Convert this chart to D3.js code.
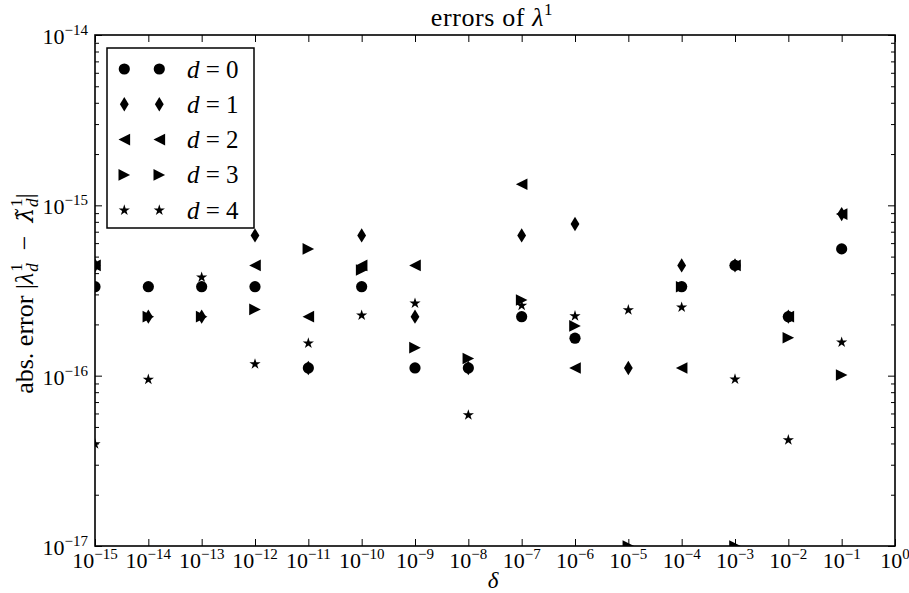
<!DOCTYPE html>
<html>
<head>
<meta charset="utf-8">
<script src="https://d3js.org/d3.v7.min.js"></script>
<style>
  body { margin: 0; background: #fff; }
  text { font-family: "Liberation Serif", "DejaVu Serif", serif; fill: #000; }
</style>
</head>
<body>
<div id="chart"></div>
<script>
// delta values (x) and abs. errors per d (y); null = not visible in the figure
const deltas = [1e-15, 1e-14, 1e-13, 1e-12, 1e-11, 1e-10, 1e-9, 1e-8, 1e-7, 1e-6, 1e-5, 1e-4, 1e-3, 1e-2, 1e-1];
const errD0 = [3.33e-16, 3.33e-16, 3.33e-16, 3.33e-16, 1.11e-16, 3.33e-16, 1.11e-16, 1.11e-16, 2.22e-16, 1.66e-16, null, 3.33e-16, 4.44e-16, 2.22e-16, 5.55e-16];
const errD1 = [4.44e-16, 2.22e-16, 2.22e-16, 6.66e-16, 1.11e-16, 6.66e-16, 2.22e-16, 1.11e-16, 6.66e-16, 7.77e-16, 1.11e-16, 4.44e-16, 4.44e-16, 2.22e-16, 8.88e-16];
const errD2 = [4.44e-16, null, null, 4.44e-16, 2.22e-16, 4.44e-16, 4.44e-16, null, 1.33e-15, 1.11e-16, null, 1.11e-16, 4.44e-16, 2.22e-16, 8.88e-16];
const errD3 = [4.44e-16, 2.22e-16, 2.22e-16, 2.45e-16, 5.55e-16, 4.17e-16, 1.46e-16, 1.26e-16, 2.78e-16, 1.96e-16, 1e-17, 3.33e-16, 1e-17, 1.67e-16, 1.01e-16];
const errD4 = [3.97e-17, 9.5e-17, 3.78e-16, 1.17e-16, 1.55e-16, 2.26e-16, 2.66e-16, 5.87e-17, 2.58e-16, 2.24e-16, 2.43e-16, 2.52e-16, 9.53e-17, 4.19e-17, 1.57e-16];
const seriesLabels = ["0", "1", "2", "3", "4"];
const xTickExps = [-15, -14, -13, -12, -11, -10, -9, -8, -7, -6, -5, -4, -3, -2, -1, 0];
const yTickExps = [-17, -16, -15, -14];

const width = 909, height = 593;
const margin = {top: 35, right: 14, bottom: 47, left: 95};
const plotW = width - margin.left - margin.right,
      plotH = height - margin.top - margin.bottom;

const svg = d3.select("#chart").append("svg")
    .attr("width", width)
    .attr("height", height);

const x = d3.scaleLog().domain([1e-15, 1]).range([0, plotW]);
const y = d3.scaleLog().domain([1e-17, 1e-14]).range([plotH, 0]);

const g = svg.append("g")
    .attr("transform", "translate(" + margin.left + "," + margin.top + ")");

g.append("clipPath").attr("id", "plot-clip")
    .append("rect").attr("width", plotW).attr("height", plotH);

// marker shapes, drawn around 0,0
function markerPath(kind) {
    const p = d3.path();
    if (kind === 0) {
        p.arc(0, 0, 5.6, 0, 2 * Math.PI);
    } else if (kind === 1) {
        p.moveTo(0, -7.2); p.lineTo(4.4, 0); p.lineTo(0, 7.2); p.lineTo(-4.4, 0); p.closePath();
    } else if (kind === 2) {
        p.moveTo(-5.8, 0); p.lineTo(5.8, -5.8); p.lineTo(5.8, 5.8); p.closePath();
    } else if (kind === 3) {
        p.moveTo(5.8, 0); p.lineTo(-5.8, -5.8); p.lineTo(-5.8, 5.8); p.closePath();
    } else {
        const R = 5.9, r = R * 0.382;
        for (let i = 0; i < 10; i++) {
            const a = -Math.PI / 2 + i * Math.PI / 5;
            const rad = i % 2 === 0 ? R : r;
            if (i === 0) p.moveTo(rad * Math.cos(a), rad * Math.sin(a));
            else p.lineTo(rad * Math.cos(a), rad * Math.sin(a));
        }
        p.closePath();
    }
    return p.toString();
}

const allSeries = [errD0, errD1, errD2, errD3, errD4];

const markers = g.append("g").attr("clip-path", "url(#plot-clip)");
allSeries.forEach(function (values, k) {
    const pts = deltas.map(function (d, i) { return {x: d, y: values[i]}; })
        .filter(function (d) { return d.y !== null; });
    markers.append("g").selectAll("path")
        .data(pts)
        .enter().append("path")
        .attr("d", markerPath(k))
        .attr("fill", "#000")
        .attr("transform", function (d) {
            return "translate(" + x(d.x) + "," + y(d.y) + ")";
        });
});

// axes with inward ticks on all four sides
const xTickValues = xTickExps.map(function (e) { return Math.pow(10, e); });
const yTickValues = yTickExps.map(function (e) { return Math.pow(10, e); });
const yMinor = [];
for (let e = -17; e < -14; e++) {
    for (let m = 2; m < 10; m++) yMinor.push(m * Math.pow(10, e));
}

function styleAxis(sel) {
    sel.select(".domain").remove();
    sel.selectAll(".tick line").attr("stroke", "#000").attr("stroke-width", 1);
}

g.append("g").attr("transform", "translate(0," + plotH + ")")
    .call(d3.axisBottom(x).tickValues(xTickValues).tickSize(-7).tickFormat(""))
    .call(styleAxis);
g.append("g")
    .call(d3.axisTop(x).tickValues(xTickValues).tickSize(-7).tickFormat(""))
    .call(styleAxis);
g.append("g")
    .call(d3.axisLeft(y).tickValues(yTickValues).tickSize(-7).tickFormat(""))
    .call(styleAxis);
g.append("g")
    .call(d3.axisLeft(y).tickValues(yMinor).tickSize(-4).tickFormat(""))
    .call(styleAxis);
g.append("g").attr("transform", "translate(" + plotW + ",0)")
    .call(d3.axisRight(y).tickValues(yTickValues).tickSize(-7).tickFormat(""))
    .call(styleAxis);
g.append("g").attr("transform", "translate(" + plotW + ",0)")
    .call(d3.axisRight(y).tickValues(yMinor).tickSize(-4).tickFormat(""))
    .call(styleAxis);

g.append("rect")
    .attr("width", plotW).attr("height", plotH)
    .attr("fill", "none").attr("stroke", "#000").attr("stroke-width", 1.6);

// tick labels 10^k
function powerLabel(sel, exp) {
    sel.append("tspan").text("10");
    sel.append("tspan").attr("font-size", "15px").attr("dy", -9)
        .text((exp < 0 ? "\u2212" : "") + Math.abs(exp));
}

xTickExps.forEach(function (e) {
    g.append("text")
        .attr("x", x(Math.pow(10, e)))
        .attr("y", plotH + 22)
        .attr("text-anchor", "middle")
        .attr("font-size", "22px")
        .call(powerLabel, e);
});

yTickExps.forEach(function (e) {
    g.append("text")
        .attr("x", -7)
        .attr("y", y(Math.pow(10, e)) + 9)
        .attr("text-anchor", "end")
        .attr("font-size", "22px")
        .call(powerLabel, e);
});

// title
const title = svg.append("text")
    .attr("x", margin.left + plotW / 2 - 3)
    .attr("y", 26)
    .attr("text-anchor", "middle")
    .attr("font-size", "26px")
    .attr("letter-spacing", "0.6px");
title.append("tspan").text("errors of ");
title.append("tspan").attr("font-style", "italic").text("\u03bb");
title.append("tspan").attr("font-size", "17px").attr("dy", -11).text("1");

// x label
svg.append("text")
    .attr("x", margin.left + plotW / 2 - 2)
    .attr("y", 588)
    .attr("text-anchor", "middle")
    .attr("font-size", "23px")
    .attr("font-style", "italic")
    .text("\u03b4");

// y label
const yl = svg.append("text")
    .attr("transform", "translate(33," + (margin.top + plotH / 2 + 3) + ") rotate(-90)")
    .attr("text-anchor", "middle")
    .attr("font-size", "26px");
yl.append("tspan").text("abs. error |");
yl.append("tspan").attr("font-style", "italic").text("\u03bb");
yl.append("tspan").attr("font-size", "17px").attr("dx", 1).attr("dy", -11).text("1");
yl.append("tspan").attr("font-size", "17px").attr("font-style", "italic").attr("dx", -8.5).attr("dy", 16).text("d");
yl.append("tspan").attr("dy", -5).text("\u2002\u2212\u2002");
yl.append("tspan").attr("font-style", "italic").attr("font-family", "DejaVu Serif").attr("font-size", "23px").text("\u03bb\u0303");
yl.append("tspan").attr("font-size", "17px").attr("dx", 1).attr("dy", -11).text("1");
yl.append("tspan").attr("font-size", "17px").attr("font-style", "italic").attr("dx", -8.5).attr("dy", 16).text("d");
yl.append("tspan").attr("dy", -5).text("|");

// legend
const legend = g.append("g").attr("transform", "translate(12,13)");
legend.append("rect")
    .attr("width", 147).attr("height", 180)
    .attr("fill", "#fff").attr("stroke", "#000").attr("stroke-width", 1.5);
seriesLabels.forEach(function (lab, k) {
    const row = legend.append("g").attr("transform", "translate(0," + (21 + k * 35.3) + ")");
    [17.3, 52.3].forEach(function (mx) {
        row.append("path").attr("d", markerPath(k)).attr("fill", "#000")
            .attr("transform", "translate(" + mx + ",0)");
    });
    const t = row.append("text").attr("x", 80).attr("y", 8.5).attr("font-size", "25px");
    t.append("tspan").attr("font-style", "italic").text("d");
    t.append("tspan").text(" = " + lab);
});
</script>
</body>
</html>
